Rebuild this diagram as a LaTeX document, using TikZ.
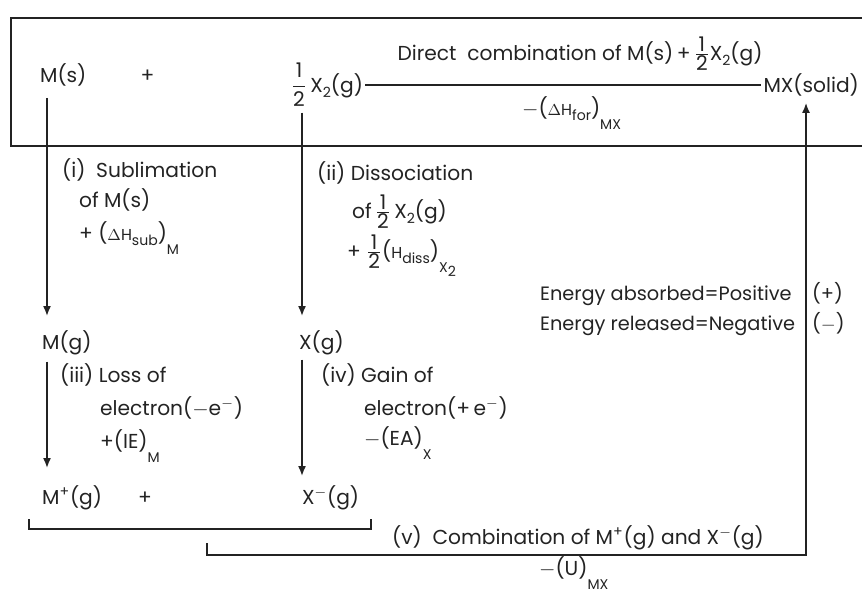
\documentclass[tikz,border=0pt]{standalone}
\usepackage{fontspec}
\setmainfont{Poppins}
\usetikzlibrary{arrows.meta}
\definecolor{inkcol}{RGB}{35,35,35}
\newcommand{\half}{$\displaystyle\frac{\mbox{1}}{\mbox{2}}$}
\newcommand{\halfs}{$\textstyle\frac{\mbox{1}}{\mbox{2}}$}
\newcommand{\lo}[1]{\raisebox{-0.5ex}{\footnotesize #1}}
\newcommand{\llo}[1]{\raisebox{-1.3ex}{\footnotesize #1}}

\begin{document}
\begin{tikzpicture}[
  font=\fontsize{11.5}{13}\selectfont,
  every node/.style={text=inkcol, inner sep=1pt},
  lbl/.style={anchor=base west},
  sign/.style={lbl, font=\fontsize{11}{13}\selectfont},
  edge/.style={draw=inkcol, line width=0.9pt},
  arr/.style={edge, -{Latex[length=2mm,width=1.6mm]}},
]
\useasboundingbox (0,0) rectangle (17.24,-11.88);

% ---- columns of the vertical arrows ----
\coordinate (colM) at (0.94,0);
\coordinate (colX) at (6.04,0);
\coordinate (colR) at (16.12,0);

% ---- Top box: direct combination ----
\draw[edge] (17.24,-0.36) -- (0.22,-0.36) -- (0.22,-2.92) -- (17.24,-2.92);

\node (ms)     at (0.76,-1.64) [lbl] {M(s)};
\node (plusA)  at (2.95,-1.64) [anchor=base] {+};
\node (xtwo)   at (5.78,-1.84) [lbl] {\half\,X\lo{2}(g)};
\node (mxs)    at (17.22,-1.84) [anchor=base east] {MX(solid)};
\node (direct) at (11.6,-1.2)  [anchor=base] {Direct\ \ combination of M(s)\,+\,\halfs X\lo{2}(g)};
\node (dhfor)  at (10.4,-2.3)  [lbl] {$-$({\small$\Delta$H}\lo{for})\llo{MX}};

% ---- Steps (i) and (ii) ----
\node (subA) at (1.2,-3.54)  [lbl] {(i)\ \ Sublimation};
\node (subB) at (1.54,-4.14) [lbl] {of M(s)};
\node (subC) at (1.54,-4.8)  [lbl] {+\ ({\small$\Delta$H}\lo{sub})\llo{M}};

\node (disA) at (6.3,-3.6)   [lbl] {(ii)\ Dissociation};
\node (disB) at (7.0,-4.36)  [lbl] {of\,\halfs\,X\lo{2}(g)};
\node (disC) at (6.9,-5.16)  [lbl] {+\ \halfs({\small H}\lo{diss})\llo{X\lo{2}}};

% ---- Sign convention ----
\node (absA) at (10.76,-6.0)  [sign] {Energy\ absorbed=Positive};
\node (absB) at (16.2,-6.0)   [sign] {(+)};
\node (relA) at (10.76,-6.6)  [sign] {Energy\ released=Negative};
\node (relB) at (16.2,-6.6)   [sign] {($-$)};

% ---- Gaseous atoms, steps (iii) and (iv) ----
\node (mg)   at (0.8,-6.98)  [lbl] {M(g)};
\node (xg)   at (5.94,-6.98) [lbl] {X(g)};

\node (losA) at (1.16,-7.64) [lbl] {(iii)\ Loss of};
\node (losB) at (1.96,-8.3)  [lbl] {electron($-$e\textsuperscript{$-$})};
\node (losC) at (1.96,-8.96) [lbl] {+(IE)\llo{M}};

\node (gaiA) at (6.38,-7.64) [lbl] {(iv)\ Gain of};
\node (gaiB) at (7.24,-8.3)  [lbl] {electron(+\,e\textsuperscript{$-$})};
\node (gaiC) at (7.24,-8.9)  [lbl] {$-$(EA)\llo{X}};

% ---- Gaseous ions, step (v) ----
\node (mp)    at (0.8,-10.08) [lbl] {M\textsuperscript{+}(g)};
\node (plusB) at (2.9,-10.08) [anchor=base] {+};
\node (xm)    at (6.0,-10.08) [lbl] {X\textsuperscript{$-$}(g)};

\node (comb) at (7.8,-10.88)  [lbl] {(v)\ \ Combination of M\textsuperscript{+}(g) and X\textsuperscript{$-$}(g)};
\node (latU) at (10.74,-11.5) [lbl] {$-$(U)\llo{MX}};

\coordinate (bAl) at (0.58,-10.38);
\coordinate (bAr) at (7.42,-10.38);
\coordinate (bBl) at (4.14,-10.86);

% ---- Edges ----
\draw[edge] (xtwo.east) -- (xtwo.east -| mxs.west);

\draw[arr, shorten <=0.2cm, shorten >=0.24cm] (ms.south -| colM) -- (mg.north -| colM);
\draw[arr, shorten <=0.1cm, shorten >=0.3cm]  (mg.south -| colM) -- (mp.north -| colM);
\draw[arr, shorten <=0.08cm, shorten >=0.24cm] (xtwo.south -| colX) -- (xg.north -| colX);
\draw[arr, shorten <=0.06cm, shorten >=0.14cm] (xg.south -| colX) -- (xm.north -| colX);

\draw[edge] (bAl) -- ++(0,-0.2) -| (bAr);
\draw[arr, shorten >=0.1cm] (bBl) -- ++(0,-0.24) -| (mxs.south -| colR);

\end{tikzpicture}
\end{document}
